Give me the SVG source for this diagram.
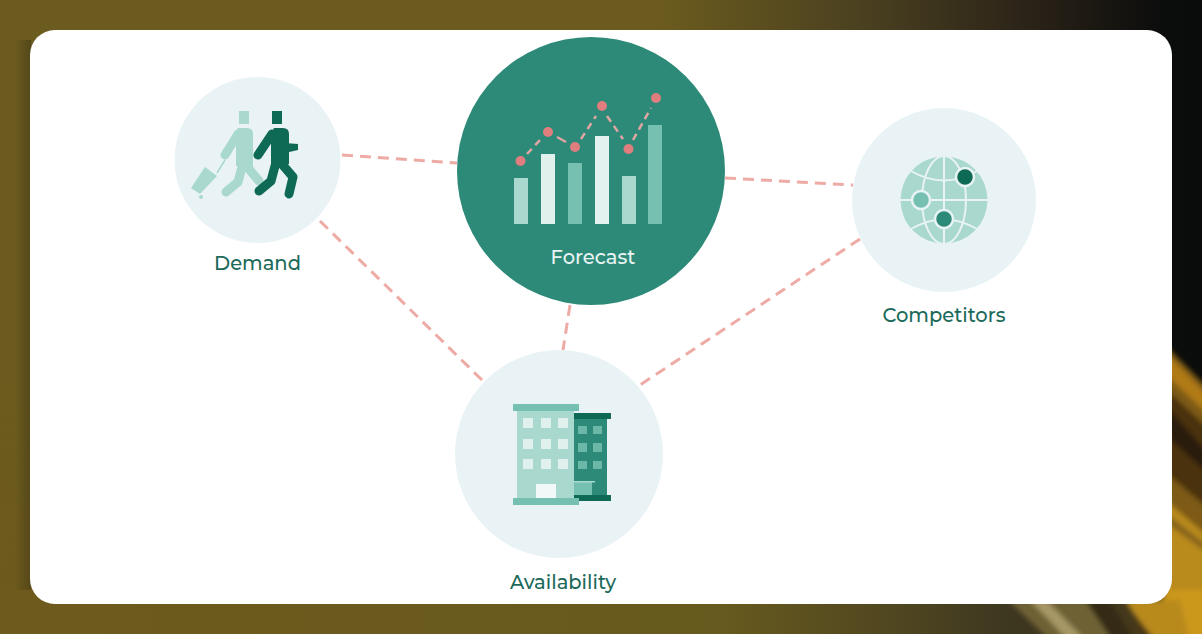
<svg xmlns="http://www.w3.org/2000/svg" width="1202" height="634" viewBox="0 0 1202 634">
<style>
.lbl{font-family:Montserrat,"Open Sans","Noto Sans",sans-serif;font-size:19.500px;font-weight:500;fill:#1c6a5a;text-anchor:middle}
.pale{fill:#e9f3f5}
.conn{fill:none;stroke:#eeaba6;stroke-width:3;stroke-dasharray:11 7}
.l{fill:#a9d8cf}.m{fill:#75c0b1}.d{fill:#0f6a55}.g{fill:#2e8a78}.w{fill:#dff0ed}
.sl{fill:none;stroke:#a9d8cf;stroke-width:9;stroke-linejoin:round;stroke-linecap:round}
.sd{fill:none;stroke:#0f6a55;stroke-width:9;stroke-linejoin:round;stroke-linecap:round}
.grid{fill:none;stroke:#e9f3f5;stroke-width:2}
</style>
<defs>
<linearGradient id="top" x1="0" x2="1" y1="0" y2="0">
<stop offset="0" stop-color="#6b5b1e"/><stop offset="0.55" stop-color="#6b5b1e"/><stop offset="0.72" stop-color="#4a4020"/><stop offset="0.85" stop-color="#2c2418"/><stop offset="0.97" stop-color="#0b0c0c"/><stop offset="1" stop-color="#0a0b0b"/>
</linearGradient>
<linearGradient id="bot" x1="0" x2="1" y1="0" y2="0">
<stop offset="0" stop-color="#6e5a1c"/><stop offset="0.6" stop-color="#675a1e"/><stop offset="0.75" stop-color="#4f4520"/><stop offset="0.84" stop-color="#3d3720"/><stop offset="1" stop-color="#4a3a1a"/>
</linearGradient>
<linearGradient id="fade" x1="0" x2="0" y1="0" y2="1">
<stop offset="0" stop-color="#fff"/><stop offset="0.6" stop-color="#fff"/><stop offset="0.93" stop-color="#000"/>
</linearGradient>
<linearGradient id="left" x1="0" x2="1" y1="0" y2="0">
<stop offset="0" stop-color="#4a3f18" stop-opacity="0"/><stop offset="1" stop-color="#4a3f18" stop-opacity="0.7"/>
</linearGradient>
<mask id="m"><rect width="1202" height="634" fill="url(#fade)"/></mask>
<filter id="b" x="-20%" y="-20%" width="140%" height="140%"><feGaussianBlur stdDeviation="2.500"/></filter>
</defs>
<g id="background">
<rect width="1202" height="634" fill="url(#bot)"/>
<rect width="1202" height="634" fill="url(#top)" mask="url(#m)"/>
<rect x="15" y="40" width="16" height="550" fill="url(#left)"/>
<g filter="url(#b)">
<path d="M1165 345L1210 390V640H1165z" fill="#7d5a14"/>
<path d="M1165 352L1210 398V416L1165 374z" fill="#b07a16"/>
<path d="M1165 388L1210 430V510L1165 472z" fill="#4a3010"/>
<path d="M1165 405L1210 455V475L1165 435z" fill="#2a1c0c"/>
<path d="M1165 500L1210 538V640H1165z" fill="#b98a1e"/>
<path d="M1165 512L1210 548V555L1165 522z" fill="#85621a"/>
<path d="M1165 590H1210V640H1150z" fill="#cc981c"/>
<path d="M1008 600H1085L1120 640H1050z" fill="#6e6236"/>
<path d="M1030 600H1046L1085 640H1068z" fill="#a89866"/>
<path d="M1085 600H1110L1134 640H1112z" fill="#352c16"/>
<path d="M1125 600H1180L1190 640H1150z" fill="#b88a1e"/>
<path d="M1135 615L1155 640H1142z" fill="#4a3512"/>
</g>
</g>
<rect id="card" x="30" y="30" width="1142" height="574" rx="25" fill="#fff"/>
<g id="connectors">
<path class="conn" d="M342 155L457 163"/>
<path class="conn" d="M725 178L853 185"/>
<path class="conn" d="M320 221L484 382"/>
<path class="conn" d="M570 305L563 350"/>
<path class="conn" d="M860 239L640 385"/>
</g>
<g id="demand">
<circle class="pale" cx="257.500" cy="160" r="83"/>
<rect class="l" x="239" y="111" width="10" height="13"/>
<path class="l" d="M205 167L217 176L200 194L191 188z"/>
<path d="M217 173L225 160" fill="none" stroke="#a9d8cf" stroke-width="1.500"/>
<circle class="l" cx="201" cy="197" r="2"/>
<path class="sl" d="M238 134L225 155"/>
<path d="M238 128h9q6 0 6 6v32h-17v-34z" class="l"/>
<path class="sl" d="M244 163L259 181M242 167L238 182L226 192"/>
<rect class="d" x="272" y="111" width="10" height="13"/>
<path d="M274 128h9q6 0 6 6v30h-18v-30z" class="d"/>
<path class="sd" d="M272 134L258 155"/>
<path d="M285 143L298 144L298 150L285 153z" class="d"/>
<path class="sd" d="M281 163L293 177L289 194M275 166L271 181L259 191"/>
<text class="lbl" x="257.500" y="270">Demand</text>
</g>
<g id="forecast">
<circle cx="591" cy="171" r="134" fill="#2e8a78"/>
<rect class="l" x="514" y="178" width="14" height="46"/>
<rect class="w" x="541" y="154" width="14" height="70"/>
<rect class="m" x="568" y="163" width="14" height="61"/>
<rect x="595" y="136" width="14" height="88" fill="#e3f2ef"/>
<rect class="l" x="622" y="176" width="14" height="48"/>
<rect class="m" x="648" y="125" width="14" height="99"/>
<g fill="none" stroke="#dfa6a3" stroke-width="2.500">
<path d="M527 154L541 139" stroke-dasharray="7 5"/><path d="M557 137L566 142"/><path d="M581 139L596 116" stroke-dasharray="7 5"/><path d="M607 116L623 139" stroke-dasharray="7 5"/><path d="M633 140L651 108" stroke-dasharray="7 5"/>
</g>
<g fill="#df7d7f"><circle cx="520.500" cy="161" r="5"/><circle cx="548" cy="132" r="5"/><circle cx="575" cy="147" r="5"/><circle cx="602" cy="106" r="5"/><circle cx="628.500" cy="149" r="5"/><circle cx="656" cy="98" r="5"/></g>
<text class="lbl" x="593" y="264" style="fill:#e8f4f2">Forecast</text>
</g>
<g id="competitors">
<circle class="pale" cx="944" cy="200" r="92"/>
<circle class="l" cx="944" cy="200" r="43.500"/>
<g class="grid">
<path d="M944 156V244M900 200H988"/>
<ellipse cx="944" cy="200" rx="22" ry="44"/>
<path d="M911 171Q944 190 977 171M911 229Q944 210 977 229"/>
</g>
<circle class="m" cx="921" cy="200" r="9" stroke="#e9f3f5" stroke-width="2.500"/>
<circle class="g" cx="944" cy="219" r="9" stroke="#e9f3f5" stroke-width="2.500"/>
<circle class="d" cx="965" cy="177" r="9" stroke="#e9f3f5" stroke-width="2.500"/>
<text class="lbl" x="944" y="322">Competitors</text>
</g>
<g id="availability">
<circle class="pale" cx="559" cy="454" r="104"/>
<rect class="g" x="574" y="416" width="33" height="80"/>
<rect class="d" x="574" y="413" width="37" height="6"/>
<rect class="d" x="574" y="495" width="37" height="6"/>
<rect x="574" y="482" width="18" height="13" class="m"/>
<rect x="574" y="481" width="21" height="1.500" fill="#a9d8cf"/>
<rect class="l" x="517" y="408" width="57" height="92"/>
<rect class="m" x="513" y="404" width="66" height="7"/>
<rect class="m" x="513" y="498" width="66" height="7"/>
<g fill="#dff0ed"><rect x="523" y="418" width="10" height="10"/><rect x="541" y="418" width="10" height="10"/><rect x="558" y="418" width="10" height="10"/><rect x="523" y="439" width="10" height="10"/><rect x="541" y="439" width="10" height="10"/><rect x="558" y="439" width="10" height="10"/><rect x="523" y="459" width="10" height="10"/><rect x="541" y="459" width="10" height="10"/><rect x="558" y="459" width="10" height="10"/></g>
<rect x="536" y="484" width="20" height="14" fill="#f1f8f7"/>
<g fill="#6bb8a8"><rect x="578" y="426" width="9" height="8"/><rect x="593" y="426" width="9" height="8"/><rect x="578" y="443" width="9" height="9"/><rect x="593" y="443" width="9" height="9"/><rect x="578" y="461" width="9" height="8"/><rect x="593" y="461" width="9" height="8"/></g>
<text class="lbl" x="563" y="589">Availability</text>
</g>
</svg>
